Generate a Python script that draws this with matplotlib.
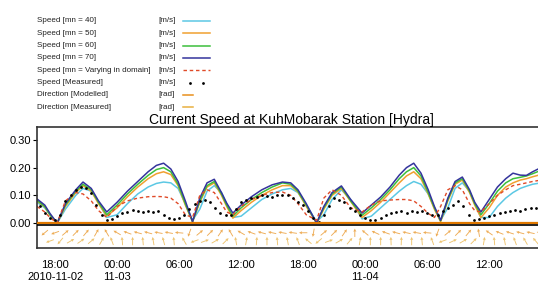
import numpy as np
import matplotlib
matplotlib.use('Agg')
import matplotlib.pyplot as plt
from matplotlib.lines import Line2D

plt.rcParams['font.family'] = ['Liberation Sans', 'DejaVu Sans']

# Model output times, hours after 2010-11-02 18:00
model_hours = [-1.75, -1.0, -0.5, 0.2, 1.0, 2.0, 2.7, 3.5, 4.2, 5.0, 6.0, 7.0, 8.0, 9.0, 9.8,
               10.5, 11.2, 11.9, 12.6, 13.3, 14.0, 14.7, 15.4, 16.1, 16.6, 17.2, 18.0, 19.0,
               20.0, 21.0, 22.0, 22.8, 23.5, 24.3, 25.3, 26.0, 26.8, 27.7, 28.6, 29.7, 30.6,
               31.5, 32.4, 33.3, 34.0, 34.7, 35.4, 36.1, 36.7, 37.3, 38.0, 38.7, 39.4, 40.1,
               40.6, 41.2, 42.0, 42.8, 43.6, 44.3, 45.0, 45.6, 46.2, 47.0, 47.5]

speed_mn40 = [0.075, 0.055, 0.03, 0.0, 0.05, 0.1, 0.125, 0.115, 0.075, 0.02, 0.03, 0.07, 0.105,
              0.13, 0.143, 0.148, 0.145, 0.125, 0.07, 0.01, 0.05, 0.115, 0.135, 0.11, 0.07, 0.02,
              0.025, 0.055, 0.085, 0.105, 0.12, 0.125, 0.11, 0.065, 0.005, 0.03, 0.085, 0.12,
              0.085, 0.015, 0.025, 0.055, 0.085, 0.115, 0.135, 0.15, 0.14, 0.105, 0.055, 0.01,
              0.055, 0.125, 0.145, 0.115, 0.07, 0.02, 0.02, 0.06, 0.09, 0.11, 0.125, 0.133, 0.14,
              0.145, 0.148]
speed_mn50 = [0.08, 0.058, 0.03, 0.0, 0.06, 0.11, 0.135, 0.115, 0.07, 0.025, 0.055, 0.095, 0.13,
              0.16, 0.178, 0.185, 0.175, 0.135, 0.065, 0.005, 0.075, 0.13, 0.145, 0.1, 0.06, 0.018,
              0.045, 0.075, 0.1, 0.12, 0.135, 0.135, 0.112, 0.06, 0.0, 0.05, 0.1, 0.125, 0.078,
              0.02, 0.045, 0.075, 0.11, 0.145, 0.17, 0.185, 0.16, 0.105, 0.05, 0.005, 0.08, 0.14,
              0.155, 0.11, 0.065, 0.02, 0.055, 0.1, 0.13, 0.145, 0.155, 0.16, 0.167, 0.175, 0.18]
speed_mn60 = [0.082, 0.06, 0.03, 0.0, 0.065, 0.115, 0.14, 0.12, 0.075, 0.03, 0.065, 0.105, 0.14,
              0.172, 0.193, 0.2, 0.185, 0.14, 0.07, 0.005, 0.08, 0.135, 0.15, 0.105, 0.065, 0.025,
              0.055, 0.085, 0.11, 0.13, 0.145, 0.14, 0.115, 0.065, 0.0, 0.055, 0.105, 0.13, 0.08,
              0.028, 0.055, 0.085, 0.12, 0.16, 0.185, 0.2, 0.17, 0.11, 0.055, 0.008, 0.085, 0.145,
              0.16, 0.115, 0.07, 0.03, 0.07, 0.115, 0.145, 0.16, 0.165, 0.17, 0.178, 0.19, 0.195]
speed_mn70 = [0.087, 0.065, 0.035, 0.0, 0.07, 0.12, 0.148, 0.125, 0.08, 0.04, 0.075, 0.115, 0.15,
              0.185, 0.208, 0.216, 0.195, 0.15, 0.08, 0.005, 0.09, 0.145, 0.158, 0.11, 0.072, 0.036,
              0.065, 0.095, 0.12, 0.138, 0.148, 0.145, 0.12, 0.07, 0.0, 0.06, 0.11, 0.134, 0.085,
              0.036, 0.065, 0.094, 0.13, 0.173, 0.2, 0.216, 0.18, 0.12, 0.06, 0.01, 0.09, 0.15,
              0.166, 0.12, 0.075, 0.04, 0.085, 0.13, 0.16, 0.18, 0.173, 0.172, 0.185, 0.2, 0.21]
speed_varying = [0.06, 0.04, 0.02, 0.0, 0.08, 0.11, 0.105, 0.08, 0.045, 0.02, 0.06, 0.08, 0.09,
                 0.095, 0.096, 0.095, 0.09, 0.07, 0.03, 0.02, 0.1, 0.12, 0.11, 0.07, 0.04, 0.03,
                 0.06, 0.085, 0.1, 0.11, 0.112, 0.1, 0.07, 0.03, 0.01, 0.09, 0.12, 0.1, 0.055,
                 0.04, 0.065, 0.08, 0.083, 0.085, 0.085, 0.08, 0.06, 0.035, 0.02, 0.06, 0.12,
                 0.135, 0.12, 0.07, 0.045, 0.04, 0.07, 0.1, 0.12, 0.135, 0.14, 0.145, 0.15, 0.155,
                 0.155]

# Measured speed, half-hourly from 16:30 on 11-02
meas_hours = np.arange(-1.5, 48.0, 0.5)
speed_measured = [0.06, 0.035, 0.02, 0.01, 0.03, 0.08, 0.1, 0.12, 0.13, 0.125, 0.11, 0.065, 0.03,
                  0.01, 0.015, 0.025, 0.035, 0.04, 0.047, 0.045, 0.04, 0.042, 0.04, 0.043, 0.03,
                  0.02, 0.015, 0.02, 0.03, 0.05, 0.07, 0.08, 0.082, 0.075, 0.055, 0.035, 0.03,
                  0.028, 0.05, 0.075, 0.085, 0.09, 0.095, 0.1, 0.098, 0.094, 0.1, 0.1, 0.1, 0.09,
                  0.075, 0.065, 0.045, 0.02, 0.005, 0.03, 0.06, 0.09, 0.085, 0.075, 0.055, 0.045,
                  0.03, 0.02, 0.012, 0.01, 0.02, 0.03, 0.035, 0.04, 0.042, 0.035, 0.045, 0.04,
                  0.042, 0.035, 0.03, 0.03, 0.045, 0.055, 0.065, 0.08, 0.06, 0.03, 0.01, 0.015,
                  0.02, 0.025, 0.03, 0.035, 0.04, 0.045, 0.048, 0.045, 0.05, 0.055, 0.055, 0.06,
                  0.06]

# Current direction (degrees), hourly from 17:00 on 11-02
dir_hours = np.arange(-1, 48, 1)
dir_modelled = [220, 200, 40, 45, 50, 60, 120, 150, 160, 165, 165, 170, 170, 175, 250, 40, 45, 55,
                120, 150, 160, 165, 168, 170, 172, 180, 260, 40, 45, 55, 90, 140, 155, 160, 165,
                168, 170, 175, 250, 40, 45, 50, 100, 145, 158, 162, 165, 168, 170]
dir_measured = [200, 230, 30, 35, 40, 60, 110, 95, 90, 95, 100, 105, 95, 120, 200, 20, 30, 45, 100,
                80, 85, 90, 95, 100, 110, 140, 220, 20, 30, 50, 80, 90, 90, 92, 88, 90, 95, 110,
                200, 25, 30, 45, 80, 95, 100, 110, 120, 130, 135]

tick_hours = [0, 6, 12, 18, 24, 30, 36, 42]
tick_labels = ['18:00\n2010-11-02', '00:00\n11-03', '06:00', '12:00', '18:00',
               '00:00\n11-04', '06:00', '12:00']

legend_labels = ['Speed [mn = 40]', 'Speed [mn = 50]', 'Speed [mn = 60]', 'Speed [mn = 70]',
                 'Speed [mn = Varying in domain]', 'Speed [Measured]',
                 'Direction [Modelled]', 'Direction [Measured]']
legend_units = ['[m/s]'] * 6 + ['[rad]'] * 2

C40, C50, C60, C70 = '#5cc8e4', '#f0a030', '#3cbf3c', '#34349c'
CVAR, CDIR1, CDIR2 = '#e04a28', '#e8901c', '#e8b040'

W, H = 538, 286
fig = plt.figure(figsize=(W / 100, H / 100), dpi=100)
ax = fig.add_axes([37 / W, 1 - 248 / H, 508 / W, 121 / H])

ax.plot(model_hours, speed_mn40, color=C40, lw=1.1)
ax.plot(model_hours, speed_mn50, color=C50, lw=1.1)
ax.plot(model_hours, speed_mn60, color=C60, lw=1.1)
ax.plot(model_hours, speed_mn70, color=C70, lw=1.1)
ax.plot(model_hours, speed_varying, color=CVAR, lw=1.0, ls=(0, (2.5, 2)))
ax.plot(meas_hours, speed_measured, ls='none', marker='o', ms=2.0, mew=0, color='black')

ax.axhline(0, color='#e07800', lw=1.6, zorder=5)
ax.axhline(-0.007, color='black', lw=1.2, zorder=5)

# direction glyphs in the band below zero
dm = np.deg2rad(dir_modelled)
dr = np.deg2rad(dir_measured)
ax.quiver(dir_hours, np.full(len(dir_hours), -0.035), np.cos(dm), np.sin(dm), color=CDIR1,
          pivot='middle', units='dots', width=0.9, headwidth=3.5, headlength=3.5,
          headaxislength=3, scale_units='dots', scale=0.12, alpha=0.75)
ax.quiver(np.array(dir_hours) + 0.5, np.full(len(dir_hours), -0.065), np.cos(dr), np.sin(dr),
          color=CDIR2, pivot='middle', units='dots', width=0.9, headwidth=3.5, headlength=3.5,
          headaxislength=3, scale_units='dots', scale=0.12, alpha=0.75)

ax.set_xlim(-1.75, 47.4)
ax.set_ylim(-0.090, 0.3466)
ax.set_yticks([0.0, 0.1, 0.2, 0.3])
ax.set_yticklabels(['0.00', '0.10', '0.20', '0.30'])
ax.set_xticks(tick_hours)
ax.set_xticklabels(tick_labels)
ax.tick_params(axis='x', length=0, pad=9, labelsize=8)
ax.tick_params(axis='y', length=3, pad=1, labelsize=8)
for s in ax.spines.values():
    s.set_color('#333333')
    s.set_linewidth(1.2)

ax.set_title('Current Speed at KuhMobarak Station [Hydra]', fontsize=10, pad=1)

# legend block at the top left
for i, (lab, unit) in enumerate(zip(legend_labels, legend_units)):
    yy = 1 - (21 + 12.3 * i) / H
    fig.text(37 / W, yy, lab, fontsize=5.8, va='center', ha='left', color='#222222')
    fig.text(158 / W, yy, unit, fontsize=5.8, va='center', ha='left', color='#222222')
    if i < 4:
        fig.lines.append(Line2D([183 / W, 210 / W], [yy, yy], transform=fig.transFigure,
                                color=[C40, C50, C60, C70][i], lw=1.1))
    elif i == 4:
        fig.lines.append(Line2D([183 / W, 210 / W], [yy, yy], transform=fig.transFigure,
                                color=CVAR, lw=1.0, ls=(0, (2.5, 2))))
    elif i == 5:
        fig.lines.append(Line2D([190 / W, 203 / W], [yy, yy], transform=fig.transFigure,
                                ls='none', marker='o', ms=2.0, mew=0, color='black'))
    else:
        fig.lines.append(Line2D([183 / W, 193 / W], [yy, yy], transform=fig.transFigure,
                                color=[CDIR1, CDIR2][i - 6], lw=1.1))

fig.savefig('out.png', dpi=100)
